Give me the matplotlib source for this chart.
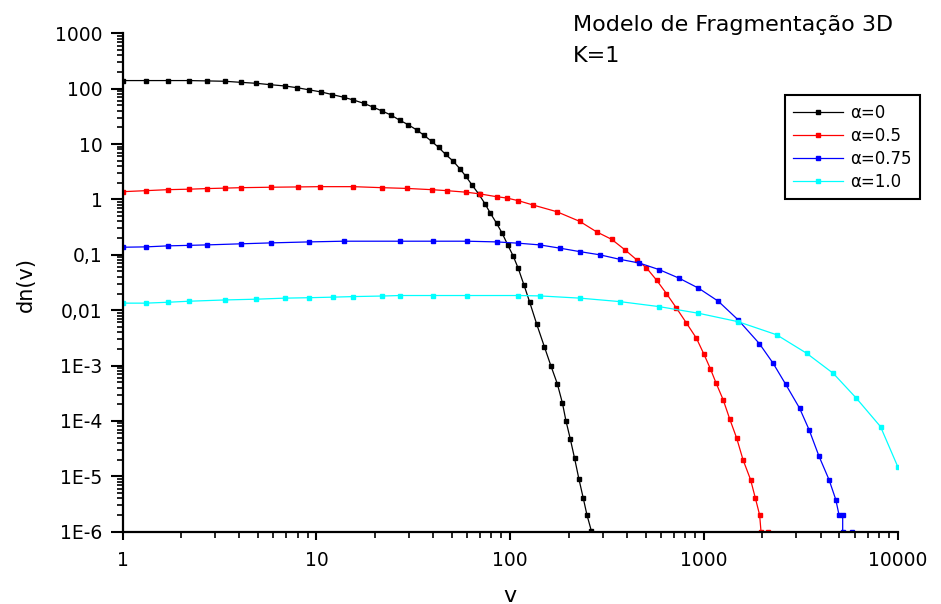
import numpy as np
import matplotlib
matplotlib.use("Agg")
import matplotlib.pyplot as plt
from matplotlib.ticker import LogLocator, NullFormatter

plt.rcParams['font.family'] = ['DejaVu Sans']

# alpha = 0 (black)
v_a0 = [1, 1.32, 1.71, 2.19, 2.73, 3.37, 4.07, 4.89, 5.77, 6.84, 7.95, 9.2,
        10.6, 12.1, 13.8, 15.5, 17.5, 19.5, 21.8, 24.2, 26.9, 29.7, 32.9, 35.9,
        39.3, 42.7, 46.4, 50.8, 55.1, 59.1, 63.7, 68.7, 74.0, 79.1, 85.1, 90.9,
        96.9, 103.6, 110, 118, 126, 137, 150, 162, 175, 186, 194, 204, 215, 226,
        238, 249, 262]
dn_a0 = [140, 140, 140, 140, 138, 136, 130, 125, 118, 112, 104, 95,
         87, 78, 70, 62.5, 54.5, 46.8, 39.5, 33.5, 26.9, 22.4, 18, 14.4,
         11.2, 8.7, 6.5, 4.9, 3.55, 2.6, 1.8, 1.26, 0.84, 0.56, 0.37, 0.245,
         0.153, 0.095, 0.057, 0.028, 0.014, 0.0056, 0.0022, 0.001, 4.7e-4,
         2.1e-4, 1.0e-4, 4.8e-5, 2.1e-5, 9.1e-6, 4.1e-6, 2.0e-6, 1.05e-6]

# alpha = 0.5 (red)
v_a05 = [1, 1.32, 1.71, 2.19, 2.73, 3.37, 4.1, 5.8, 8.0, 10.4, 15.5, 21.7,
         29.2, 39.3, 47, 59.3, 69.6, 85, 96, 110, 131.6, 174, 229, 279, 334,
         391, 450, 505, 569, 640, 720, 811, 915, 1000, 1080, 1153, 1257, 1360,
         1475, 1590, 1740, 1840, 1938, 1970, 2150]
dn_a05 = [1.38, 1.44, 1.50, 1.53, 1.57, 1.60, 1.63, 1.66, 1.68, 1.70, 1.70,
          1.63, 1.58, 1.50, 1.44, 1.35, 1.26, 1.12, 1.06, 0.95, 0.79, 0.60,
          0.40, 0.26, 0.19, 0.123, 0.081, 0.058, 0.035, 0.020, 0.011, 0.0059,
          0.0031, 0.0016, 8.7e-4, 4.9e-4, 2.4e-4, 1.07e-4, 4.9e-5, 2.0e-5,
          8.7e-6, 4.1e-6, 2.0e-6, 1e-6, 1e-6]

# alpha = 0.75 (blue)
v_a075 = [1, 1.32, 1.71, 2.19, 2.73, 4.1, 5.8, 9.2, 13.8, 27, 40, 59.6, 85,
          110, 142, 180, 229, 290, 367, 464, 587, 742, 937, 1186, 1500, 1930,
          2275, 2640, 3115, 3490, 3925, 4420, 4790, 4980, 5200, 5200, 5800]
dn_a075 = [0.137, 0.139, 0.145, 0.148, 0.151, 0.158, 0.164, 0.171, 0.176,
           0.176, 0.176, 0.176, 0.171, 0.162, 0.151, 0.132, 0.114, 0.100,
           0.083, 0.071, 0.054, 0.038, 0.025, 0.0145, 0.0067, 0.0025, 0.0011,
           4.6e-4, 1.7e-4, 6.9e-5, 2.3e-5, 8.7e-6, 3.8e-6, 2.0e-6, 2.0e-6,
           1e-6, 1e-6]

# alpha = 1.0 (cyan)
v_a1 = [1, 1.32, 1.71, 2.19, 3.37, 4.9, 6.9, 9.2, 12.2, 15.5, 21.7, 27, 40,
        59.6, 110, 142, 229, 367, 587, 937, 1500, 2370, 3385, 4655, 6100,
        8150, 10000]
dn_a1 = [0.0134, 0.0134, 0.0139, 0.0145, 0.0153, 0.0158, 0.0165, 0.0168,
         0.0172, 0.0176, 0.0180, 0.0184, 0.0184, 0.0184, 0.0184, 0.0181,
         0.0165, 0.0143, 0.0116, 0.0088, 0.0062, 0.0036, 0.00167, 7.2e-4,
         2.6e-4, 7.9e-5, 1.5e-5]

series = [(v_a0, dn_a0, 'black', 'α=0'),
          (v_a05, dn_a05, 'red', 'α=0.5'),
          (v_a075, dn_a075, 'blue', 'α=0.75'),
          (v_a1, dn_a1, 'cyan', 'α=1.0')]

y_ticks = [1e-6, 1e-5, 1e-4, 1e-3, 1e-2, 1e-1, 1, 10, 100, 1000]
y_labels = ['1E-6', '1E-5', '1E-4', '1E-3', '0,01', '0,1', '1', '10', '100', '1000']
x_ticks = [1, 10, 100, 1000, 10000]
x_labels = ['1', '10', '100', '1000', '10000']

fig = plt.figure(figsize=(9.41, 6.04), dpi=100)
ax = fig.add_axes([0.1304, 0.1197, 0.8236, 0.8252])

for v, dn, col, lab in series:
    ax.plot(v, dn, color=col, lw=0.9, marker='s', ms=3.2, mec=col, mfc=col,
            label=lab)

ax.set_xscale('log')
ax.set_yscale('log')
ax.set_xlim(1, 10000)
ax.set_ylim(1e-6, 1000)

ax.set_xticks(x_ticks)
ax.set_xticklabels(x_labels)
ax.set_yticks(y_ticks)
ax.set_yticklabels(y_labels)
ax.xaxis.set_minor_locator(LogLocator(base=10, subs=np.arange(2, 10)))
ax.yaxis.set_minor_locator(LogLocator(base=10, subs=np.arange(2, 10), numticks=20))
ax.xaxis.set_minor_formatter(NullFormatter())
ax.yaxis.set_minor_formatter(NullFormatter())

# only left/bottom axes, ticks outward
ax.spines['top'].set_visible(False)
ax.spines['right'].set_visible(False)
ax.spines['left'].set_linewidth(1.6)
ax.spines['bottom'].set_linewidth(1.6)
ax.tick_params(which='both', direction='out', labelsize=13.5)
ax.tick_params(axis='y', which='major', length=8.5, width=1.5, pad=6)
ax.tick_params(axis='y', which='minor', length=4.5, width=1.2)
ax.tick_params(axis='x', which='major', length=6, width=1.5, pad=8)
ax.tick_params(axis='x', which='minor', length=4, width=1.2)

ax.set_xlabel('v', fontsize=16, va='top')
ax.xaxis.set_label_coords(0.5, -0.108)
ax.set_ylabel('dn(v)', fontsize=15)
ax.yaxis.set_label_coords(-0.112, 0.495)

fig.text(0.609, 0.948, 'Modelo de Fragmentação 3D', fontsize=16,
         va='baseline', ha='left')
fig.text(0.609, 0.898, 'K=1', fontsize=16, va='baseline', ha='left')

leg = ax.legend(loc='upper left', bbox_to_anchor=(0.8255, 0.856),
                bbox_transform=fig.transFigure, fontsize=12, handlelength=3,
                handletextpad=0.4, fancybox=False, framealpha=1,
                edgecolor='black', borderpad=0.5, labelspacing=0.3)
leg.get_frame().set_linewidth(1.5)

fig.savefig('out.png', dpi=100)
